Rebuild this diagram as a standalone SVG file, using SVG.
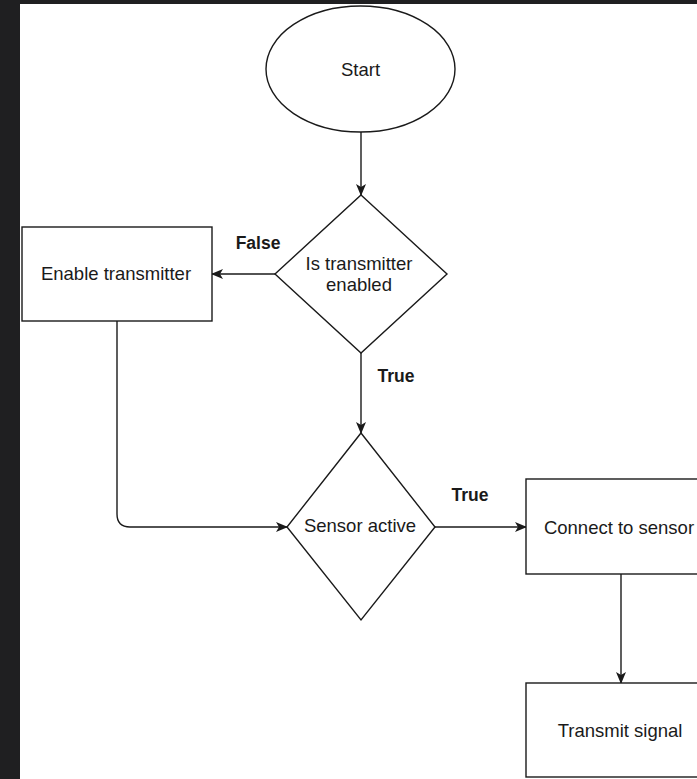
<svg xmlns="http://www.w3.org/2000/svg" width="697" height="779" viewBox="0 0 697 779">
  <style>
    .shape { fill: #ffffff; stroke: #1a1a1a; stroke-width: 1.4; }
    .edge { fill: none; stroke: #1a1a1a; stroke-width: 1.4; }
    .label { font-family: "Liberation Sans", Arial, Helvetica, sans-serif; font-size: 18.5px; fill: #1a1a1a; text-anchor: middle; }
    .tag { font-family: "Liberation Sans", Arial, Helvetica, sans-serif; font-size: 17.5px; font-weight: bold; fill: #1a1a1a; text-anchor: middle; }
  </style>
  <defs>
    <marker id="arrow" viewBox="0 0 12 10" refX="11" refY="5" markerWidth="12" markerHeight="10" markerUnits="userSpaceOnUse" orient="auto">
      <path d="M0,0 L12,5 L0,10 L3,5 z" fill="#1a1a1a"/>
    </marker>
  </defs>

  <!-- frame -->
  <rect x="0" y="0" width="697" height="779" fill="#1f1f21"/>
  <rect x="20" y="4" width="677" height="775" fill="#ffffff"/>

  <g id="connectors">
    <path class="edge" d="M361,132 L361,195" marker-end="url(#arrow)"/>
    <path class="edge" d="M275,274 L212,274" marker-end="url(#arrow)"/>
    <path class="edge" d="M361,353 L361,433" marker-end="url(#arrow)"/>
    <path class="edge" d="M117,321 L117,514 Q117,527 130,527 L287,527" marker-end="url(#arrow)"/>
    <path class="edge" d="M435,527 L526,527" marker-end="url(#arrow)"/>
    <path class="edge" d="M621,574 L621,683" marker-end="url(#arrow)"/>
    <text class="tag" x="258" y="249">False</text>
    <text class="tag" x="396" y="382">True</text>
    <text class="tag" x="470" y="501">True</text>
  </g>

  <g id="start">
    <ellipse class="shape" cx="360.5" cy="69" rx="94.5" ry="63"/>
    <text class="label" x="360.5" y="75.5">Start</text>
  </g>

  <g id="is-transmitter-enabled">
    <polygon class="shape" points="361,195 447,274 361,353 275,274"/>
    <text class="label" x="359" y="269.5">Is transmitter</text>
    <text class="label" x="359" y="290.5">enabled</text>
  </g>

  <g id="enable-transmitter">
    <rect class="shape" x="22" y="227" width="190" height="94"/>
    <text class="label" x="116" y="279.5">Enable transmitter</text>
  </g>

  <g id="sensor-active">
    <polygon class="shape" points="361,433 435,527 361,620 287,527"/>
    <text class="label" x="360" y="532">Sensor active</text>
  </g>

  <g id="connect-to-sensor">
    <rect class="shape" x="526" y="479" width="190" height="95"/>
    <text class="label" x="619" y="533.5">Connect to sensor</text>
  </g>

  <g id="transmit-signal">
    <rect class="shape" x="526" y="683" width="190" height="94"/>
    <text class="label" x="620" y="736.5">Transmit signal</text>
  </g>
</svg>
